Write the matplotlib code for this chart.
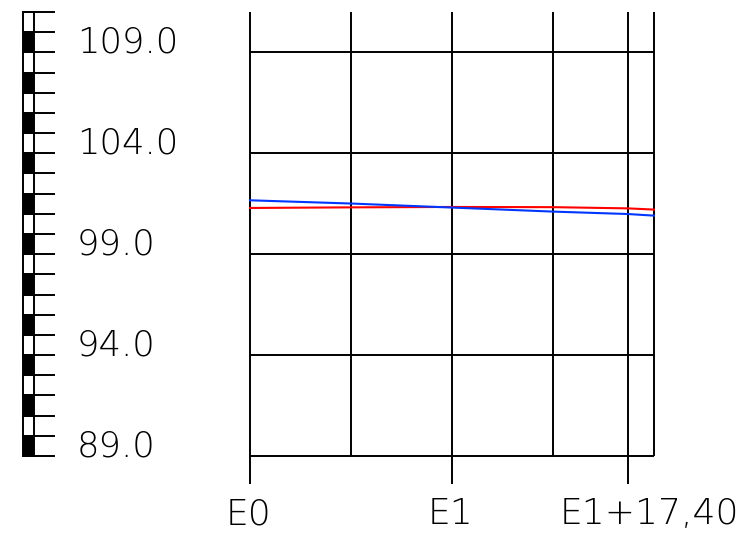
import matplotlib
matplotlib.use("Agg")
import matplotlib.pyplot as plt
import matplotlib.transforms as mtransforms
from matplotlib.patches import Rectangle

# ---- data ----
grid_x = [0, 10, 20, 30, 37.4, 40]
grid_y = [89, 94, 99, 104, 109]
y_labels = ["89.0", "94.0", "99.0", "104.0", "109.0"]
station_x = [0, 20, 37.4]
station_labels = ["E0", "E1", "E1+17,40"]
red_x = [0, 10, 20, 30, 37.4, 40]
red_y = [101.29, 101.32, 101.34, 101.33, 101.27, 101.21]
blue_x = [0, 10, 20, 30, 37.4, 40]
blue_y = [101.67, 101.51, 101.31, 101.11, 100.99, 100.91]
y_min, y_max = 89, 111
x_min, x_max = 0, 40

W, H = 748, 533
fig = plt.figure(figsize=(W / 100, H / 100), dpi=100)
ax = fig.add_axes([250 / W, (H - 456) / H, (654 - 250) / W, (456 - 12) / H])
ax.set_xlim(x_min, x_max)
ax.set_ylim(y_min, y_max)
ax.axis("off")

lw = 1.4
yfont = dict(family=["DejaVu Sans"], fontsize=25.5, fontweight="light")
xfont = dict(family=["DejaVu Sans"], fontsize=26, fontweight="light")

# grid
ax.vlines(grid_x, y_min, y_max, colors="black", lw=lw, clip_on=False)
ax.hlines(grid_y, x_min, x_max, colors="black", lw=lw, clip_on=False)

# profiles
ax.plot(red_x, red_y, color="#ff0000", lw=1.5, clip_on=False)
ax.plot(blue_x, blue_y, color="#0036ff", lw=1.5, clip_on=False)

# station ticks and labels
tick_len = 1.39
ax.vlines(station_x, y_min - tick_len, y_min, colors="black", lw=lw, clip_on=False)
for i, (sx, lab) in enumerate(zip(station_x, station_labels)):
    dx = 22 if i == len(station_x) - 1 else -2
    ax.annotate(lab, xy=(sx, y_min), xytext=(dx, -68), textcoords="offset pixels",
                ha="center", va="baseline", annotation_clip=False, **xfont)

# left scale bar
tr = mtransforms.blended_transform_factory(fig.transFigure, ax.transData)
bx0, bx1, tx1 = 23 / W, 34 / W, 54 / W
for k in range(y_min, y_max):
    black = (k - y_min) % 2 == 0
    ax.add_patch(Rectangle((bx0, k), bx1 - bx0, 1, transform=tr,
                           facecolor="black" if black else "white",
                           edgecolor="black", lw=lw, clip_on=False))
for k in range(y_min, y_max + 1):
    ax.plot([bx0, tx1], [k, k], color="black", lw=lw, transform=tr, clip_on=False)

for yv, lab in zip(grid_y, y_labels):
    ax.text(77 / W, yv, lab, transform=tr, ha="left", va="baseline", **yfont)

fig.savefig("out.png", dpi=100)
